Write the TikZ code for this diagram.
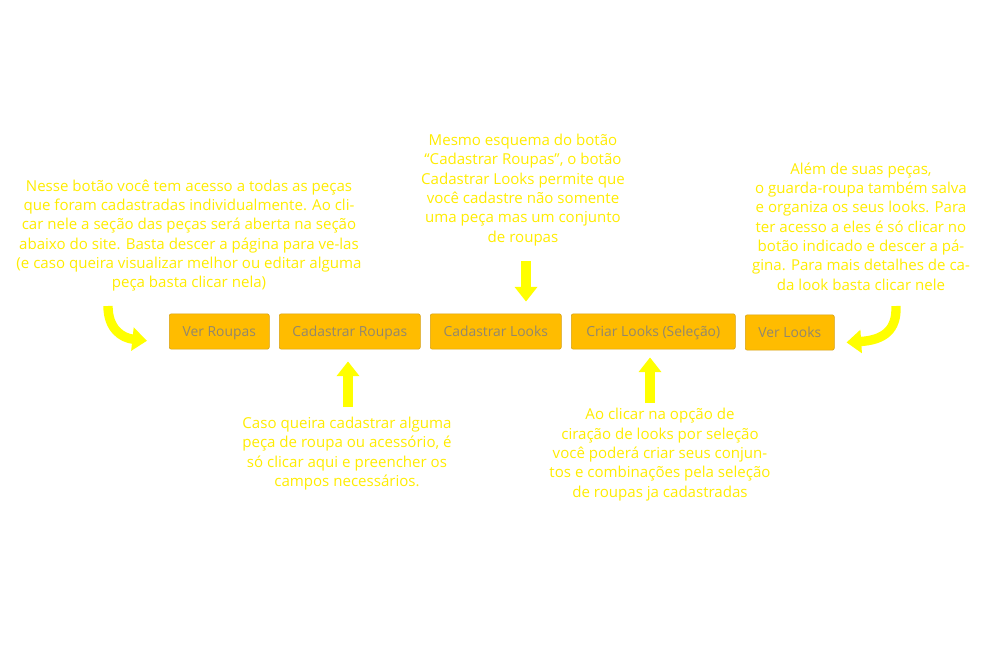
\documentclass[tikz,border=0pt]{standalone}
\usepackage{fontspec}
\setmainfont{Open Sans}
\usetikzlibrary{arrows.meta}
\definecolor{hintyellow}{RGB}{255,236,0}
\definecolor{arrowyellow}{RGB}{255,255,0}
\definecolor{btnfill}{RGB}{255,188,0}
\definecolor{btnedge}{RGB}{214,160,20}
\definecolor{btntext}{RGB}{145,135,110}
\begin{document}
\begin{tikzpicture}[x=0.75pt,y=-0.75pt,
  hint/.style={text=hintyellow,align=center,inner sep=0pt,
    font=\fontsize{11.3}{14.5}\selectfont},
  btn/.style={fill=btnfill,draw=btnedge,line width=0.4pt,rounded corners=1.5pt,
    text=btntext,inner sep=0pt,minimum height=26.5pt,anchor=west,
    text height=8.6pt,text depth=1.2pt,
    font=\fontsize{10.4}{12}\selectfont},
  bigarrow/.style={draw=arrowyellow,line width=7.5pt,
    -{Triangle[width=16.5pt,length=11pt]}},
  curvearrow/.style={draw=arrowyellow,line width=7pt,
    -{Triangle[width=17pt,length=11pt]}}]
\useasboundingbox (0,0) rectangle (1000,667);

% buttons
\node[btn,minimum width=75pt]  (verroupas)  at (169,331.5) {Ver Roupas};
\node[btn,minimum width=105.75pt] (cadroupas) at (279,331.5) {Cadastrar Roupas};
\node[btn,minimum width=98.25pt] (cadlooks)  at (430,331.5) {Cadastrar Looks};
\node[btn,minimum width=123pt] (criarlooks) at (571,331.5) {Criar Looks (Seleção)};
\node[btn,minimum width=66.75pt] (verlooks)  at (745,332.5) {Ver Looks};

% explanatory texts
\node[hint] (txtverroupas) at (189,235.5) {Nesse botão você tem acesso a todas as peças\\
que foram cadastradas individualmente. Ao cli-\\
car nele a seção das peças será aberta na seção\\
abaixo do site. Basta descer a página para ve-las\\
(e caso queira visualizar melhor ou editar alguma\\
peça basta clicar nela)};

\node[hint] (txtcadlooks) at (523,190) {Mesmo esquema do botão\\
“Cadastrar Roupas”, o botão\\
Cadastrar Looks permite que\\
você cadastre não somente\\
uma peça mas um conjunto\\
de roupas};

\node[hint] (txtverlooks) at (861,226.5) {Além de suas peças,\\
o guarda-roupa também salva\\
e organiza os seus looks. Para\\
ter acesso a eles é só clicar no\\
botão indicado e descer a pá-\\
gina. Para mais detalhes de ca-\\
da look basta clicar nele};

\node[hint] (txtcadroupas) at (347,453.5) {Caso queira cadastrar alguma\\
peça de roupa ou acessório, é\\
só clicar aqui e preencher os\\
campos necessários.};

\node[hint] (txtcriarlooks) at (660,454.5) {Ao clicar na opção de\\
ciração de looks por seleção\\
você poderá criar seus conjun-\\
tos e combinações pela seleção\\
de roupas ja cadastradas};

% straight arrows
\coordinate (downstart) at (526,261);
\coordinate (upstartA) at (348,407);
\coordinate (upstartB) at (650,403);
\draw[bigarrow,shorten >=9pt] (downstart) -- (downstart |- cadlooks.north);
\draw[bigarrow,shorten >=9pt] (upstartA) -- (upstartA |- cadroupas.south);
\draw[bigarrow,shorten >=6pt] (upstartB) -- (upstartB |- criarlooks.south);

% curved arrows
\coordinate (curveL) at (108,306);
\coordinate (curveR) at (896,306);
\draw[curvearrow] (curveL) .. controls (108,329) and (122,338) .. ([xshift=-16.5pt,yshift=6.5pt]verroupas.south west);
\draw[curvearrow] (curveR) .. controls (897,330) and (884,340) .. ([xshift=9pt,yshift=6pt]verlooks.south east);
\end{tikzpicture}
\end{document}
